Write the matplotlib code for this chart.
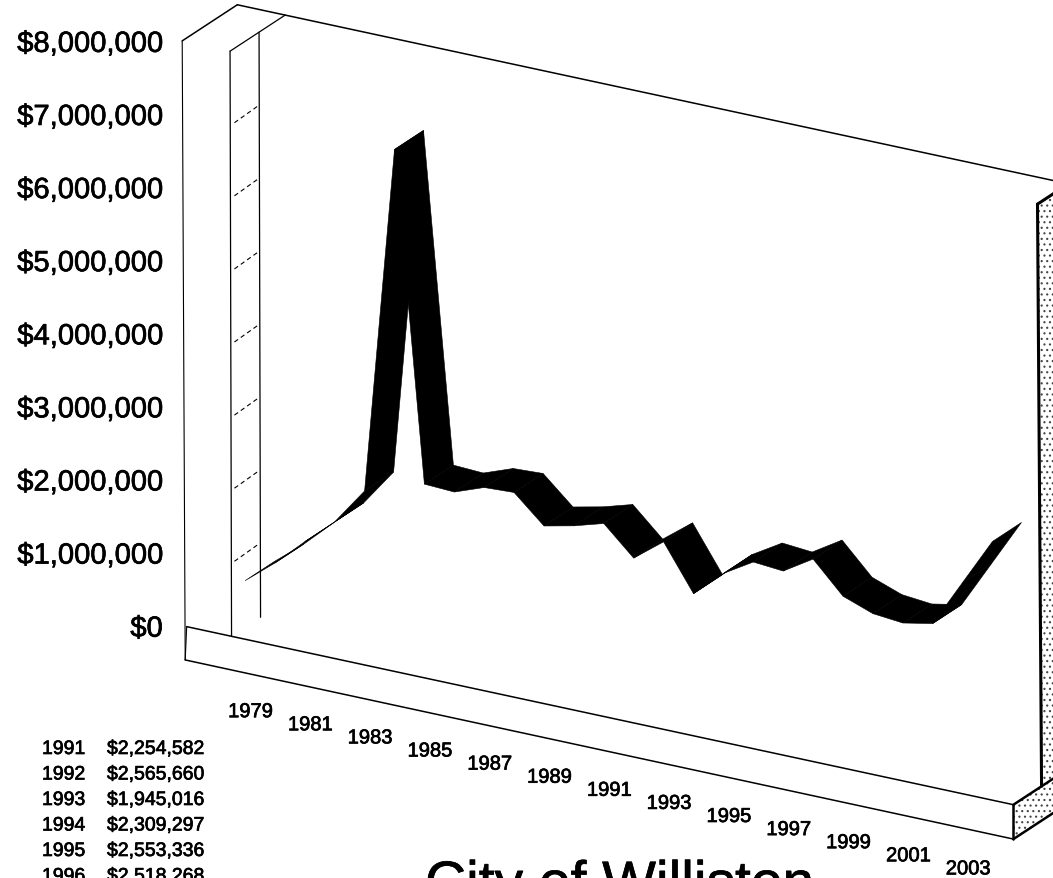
import matplotlib
matplotlib.use('Agg')
import matplotlib.pyplot as plt
import matplotlib.patheffects as pe
from matplotlib.patches import Polygon

plt.rcParams['font.family'] = ['Liberation Sans', 'DejaVu Sans']
plt.rcParams['hatch.linewidth'] = 0.8

# Data (dollars, millions)
years = [1979, 1980, 1981, 1982, 1983, 1984, 1985, 1986, 1987, 1988, 1989, 1990, 1991,
         1992, 1993, 1994, 1995, 1996, 1997, 1998, 1999, 2000, 2001, 2002, 2003, 2004]
values = [0.80, 1.13, 1.51, 1.87, 2.38, 7.14, 2.65, 2.63, 2.78, 2.80, 2.43, 2.52, 2.64,
          2.254582, 2.565660, 1.945016, 2.309297, 2.553336, 2.518268,
          2.77, 2.35, 2.20, 2.16, 2.24, 2.89, 3.54]
axis_ticks = [0, 1, 2, 3, 4, 5, 6, 7, 8]
year_labels = [1979, 1981, 1983, 1985, 1987, 1989, 1991, 1993, 1995, 1997, 1999, 2001, 2003]
table_years = ['1991', '1992', '1993', '1994', '1995', '1996']
table_values = ['$2,254,582', '$2,565,660', '$1,945,016', '$2,309,297', '$2,553,336', '$2,518,268']
title = 'City of Williston'

# scanned text comes out a little heavy
heavy = [pe.withStroke(linewidth=0.5, foreground='black')]


# Oblique 3D projection: category index, value in millions, depth -> pixels
def project(i, v, d=0.0):
    x = 245 + 29.9 * i + 29 * d
    y = 640.2 + 6.44 * i - 73.1 * v - 19 * d
    return x, y


def edge(ax, a, b, lw=1.1, **kw):
    pa, pb = project(*a), project(*b)
    ax.plot([pa[0], pb[0]], [pa[1], pb[1]], color='black', lw=lw, solid_capstyle='round', **kw)


fig = plt.figure(figsize=(10.53, 8.79), dpi=100)
ax = fig.add_axes([0, 0, 1, 1])
ax.set_xlim(0, 1053)
ax.set_ylim(879, 0)
ax.axis('off')

# Walls and floor
edge(ax, (-2.1, 8), (-2.1, 8, 1.9))
edge(ax, (-2.1, 8, 1.9), (25.3, 8, 1.9))
edge(ax, (-2.1, 8), (-2.0, -0.46), lw=0.8)
edge(ax, (-0.5, 8), (-0.5, 8, 1.9), lw=0.9)
edge(ax, (-0.5, 8), (-0.45, 0), lw=0.9)
edge(ax, (-0.5, 8, 1), (-0.45, 0, 1), lw=0.9)
edge(ax, (-1.95, 0), (25.7, 0))
edge(ax, (-2.0, -0.46), (25.7, -0.47))
edge(ax, (-1.95, 0), (-2.0, -0.46), lw=0.8)

# Broken gridlines between the two wall lines, as the scan left them
for v in axis_ticks[1:-1]:
    edge(ax, (-0.45, v, 0.1), (-0.5, v, 0.95), lw=0.8, ls=(0, (4, 3)))

# Stippled right wall and floor end
wall = [project(25.7, 0, 0.97), project(25.7, 8, 0.83), project(25.7, 8, 1.9), project(25.7, 0, 1.9)]
ax.add_patch(Polygon(wall, facecolor='white', edgecolor='#444444', hatch='...', lw=0))
end = [project(25.7, 0, 0), project(25.7, 0, 1.9), project(25.7, -0.47, 1.9), project(25.7, -0.47, 0)]
ax.add_patch(Polygon(end, facecolor='white', edgecolor='#444444', hatch='...', lw=0))
edge(ax, (25.7, 0, 0.97), (25.7, 8, 0.83), lw=2.2)
edge(ax, (25.7, 8, 0.83), (25.7, 8, 1.9), lw=2.2)
edge(ax, (25.7, 0), (25.7, 0, 1.9), lw=1.8)
edge(ax, (25.7, -0.47), (25.7, -0.47, 1.9), lw=1.8)
edge(ax, (25.7, 0), (25.7, -0.47), lw=1.8)

# Ribbon, one quad per year
for i in range(len(years) - 1):
    quad = [project(i, values[i]), project(i + 1, values[i + 1]),
            project(i + 1, values[i + 1], 1), project(i, values[i], 1)]
    ax.add_patch(Polygon(quad, facecolor='black', edgecolor='black', lw=0.4, zorder=3))

# Value axis labels
for v in axis_ticks:
    x, y = project(-2.1, v)
    ax.text(x - 19.5, y + 3, '$' + format(v * 1000000, ','), ha='right', va='center',
            fontsize=21, path_effects=heavy)

# Year labels
for yr in year_labels:
    i = years.index(yr)
    x, y = project(i, 0)
    ax.text(x + 5.5, y + 72.5 + 0.11 * i, str(yr), ha='center', va='center', fontsize=14.5, path_effects=heavy)

# Table of values, cut by the bottom of the page
for k in range(len(table_years)):
    ax.text(42, 750.5 + 25.5 * k, table_years[k], ha='left', va='center', fontsize=14, path_effects=heavy)
    ax.text(107, 750.5 + 25.5 * k, table_values[k], ha='left', va='center', fontsize=14, path_effects=heavy)

# Title sits mostly below the page edge in the scan
ax.text(425, 902, title, ha='left', va='baseline', fontsize=41, path_effects=heavy, clip_on=False)

fig.savefig('out.png', dpi=100)
